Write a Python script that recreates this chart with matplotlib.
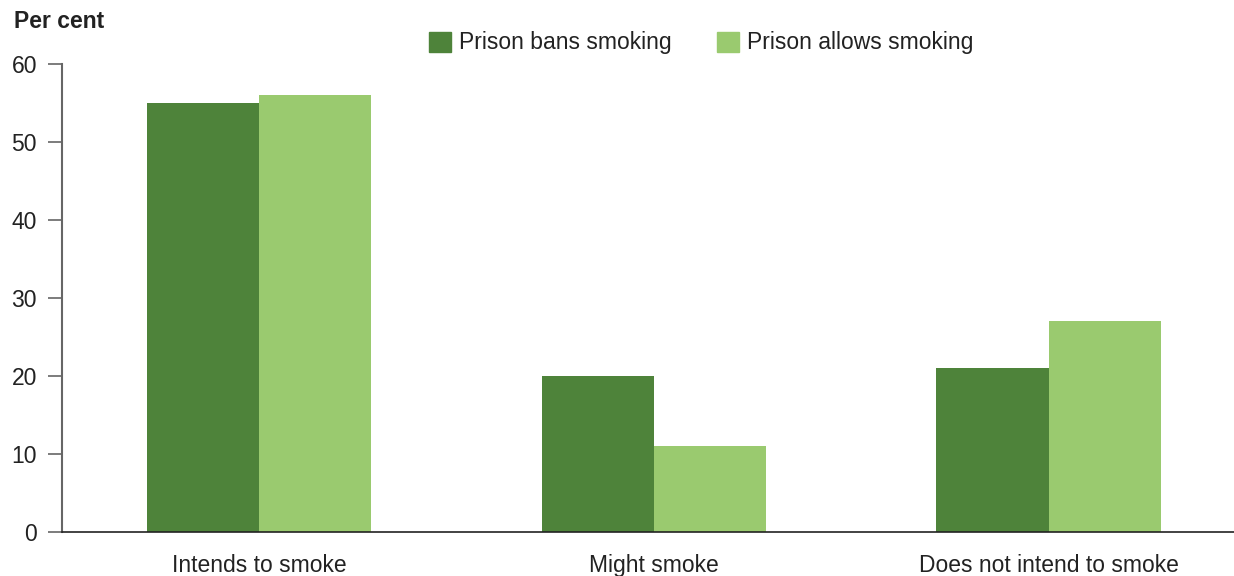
import numpy as np
import matplotlib.pyplot as plt
from matplotlib.patches import Patch

plt.rcParams['font.family'] = ['Liberation Sans', 'DejaVu Sans']

categories = ["Intends to smoke", "Might smoke", "Does not intend to smoke"]
bans = [55, 20, 21]
allows = [56, 11, 27]
series_names = ["Prison bans smoking", "Prison allows smoking"]
colors = ["#4E833A", "#9ACA6F"]

fs = 16.5

fig = plt.figure(figsize=(12.34, 5.76), dpi=100)
ax = fig.add_axes([62 / 1234, 44 / 576, 1 - 62 / 1234, 468 / 576])

x = np.arange(len(categories))
w = 0.284
ax.bar(x - w / 2, bans, w, color=colors[0])
ax.bar(x + w / 2, allows, w, color=colors[1])

ax.set_xlim(-0.5, 2.47)
ax.set_ylim(0, 60)
ax.set_yticks(range(0, 61, 10))
ax.set_xticks(x)
ax.set_xticklabels(categories)
ax.tick_params(axis='x', length=0, pad=16, labelsize=fs, colors='#222222')
ax.tick_params(axis='y', length=10, width=1.2, color='#666666', pad=8, labelsize=fs, labelcolor='#222222')
for s in ['top', 'right']:
    ax.spines[s].set_visible(False)
ax.spines['left'].set_color('#666666')
ax.spines['left'].set_linewidth(1.5)
ax.spines['bottom'].set_color('#222222')
ax.spines['bottom'].set_linewidth(1.2)

fig.text(14 / 1234, 1 - 22 / 576, "Per cent", fontsize=fs, fontweight='bold',
         va='center', ha='left', color='#222222')

handles = [Patch(color=c) for c in colors]
fig.legend(handles, series_names, loc='center', bbox_to_anchor=(701 / 1234, 1 - 43 / 576),
           ncol=2, frameon=False, fontsize=fs, handlelength=0.95, handleheight=0.95,
           handletextpad=0.35, columnspacing=2.0, labelcolor='#222222')

fig.savefig("out.png", dpi=100)
